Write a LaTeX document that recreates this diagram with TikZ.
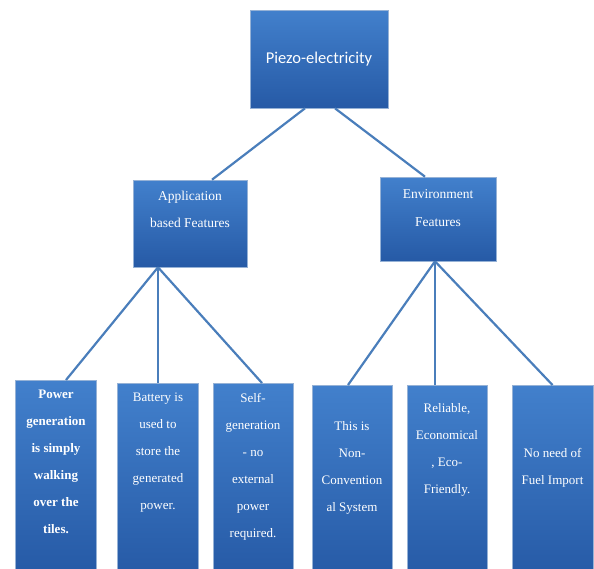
\documentclass[tikz,border=0pt]{standalone}
\usepackage{fontspec}
\setmainfont{Liberation Serif}
\newfontfamily\calfont{Carlito}
\usetikzlibrary{calc}

\definecolor{boxtop}{RGB}{66,128,204}
\definecolor{boxbot}{RGB}{38,90,166}
\definecolor{boxedge}{RGB}{150,178,214}
\definecolor{linkblue}{RGB}{74,126,187}

\begin{document}
\begin{tikzpicture}[
    x=1pt, y=-1pt,
    every node/.style={font=\fontsize{13}{27}\selectfont},  % base text size
    blockbox/.style={draw=boxedge, line width=0.6pt, top color=boxtop, bottom color=boxbot,
        rectangle, inner sep=0pt, text=white, align=center},
    leafbox/.style={blockbox, minimum width=81pt, minimum height=192pt, anchor=north},
    boxtext/.style={text=white, align=center, anchor=north, inner sep=0pt,
        font=\fontsize{13}{27}\selectfont},
    link/.style={draw=linkblue, line width=2.2pt}
]

\useasboundingbox (0,0) rectangle (594,568);

% Root block
\node[blockbox, minimum width=138pt, minimum height=98pt, font=\calfont\fontsize{16.5}{20}\selectfont]
    (root) at (319,59) {Piezo-electricity};

% Second level
\node[blockbox, minimum width=114pt, minimum height=87pt] (app) at (190,223.5) {};
\node[blockbox, minimum width=116pt, minimum height=84pt] (env) at (438,219) {};
\node[boxtext, font=\fontsize{13.5}{27.5}\selectfont] (apptext) at ([yshift=-11]app.north) {Application\\based Features};
\node[boxtext, font=\fontsize{13.5}{28}\selectfont] (envtext) at ([yshift=-13]env.north) {Environment\\Features};

% Leaf blocks (they run off the lower edge)
\node[leafbox] (b1) at (56,380) {};
\node[leafbox] (b2) at (158,383) {};
\node[leafbox, minimum width=80pt] (b3) at (253,383) {};
\node[leafbox, minimum width=80pt] (b4) at (352,385) {};
\node[leafbox, minimum width=80pt] (b5) at (447,385) {};
\node[leafbox] (b6) at (552.5,385) {};

% Leaf texts
\node[boxtext, font=\bfseries\fontsize{13}{27}\selectfont] (t1) at ([yshift=-10]b1.north)
    {Power\\generation\\is simply\\walking\\over the\\tiles.};
\node[boxtext] (t2) at ([yshift=-10]b2.north) {Battery is\\used to\\store the\\generated\\power.};
\node[boxtext] (t3) at ([yshift=-10]b3.north) {Self-\\generation\\- no\\external\\power\\required.};
\node[boxtext] (t4) at ([yshift=-36]b4.north) {This is\\Non-\\Convention\\al System};
\node[boxtext] (t5) at ([yshift=-18]b5.north) {Reliable,\\Economical\\, Eco-\\Friendly.};
\node[boxtext] (t6) at ([yshift=-63]b6.north) {No need of\\Fuel Import};

% Connectors
\coordinate (appjoin) at ([xshift=-32]app.south);
\coordinate (envjoin) at ([xshift=-3]env.south);
\draw[link] ([xshift=-14]root.south) -- ([xshift=22]app.north);
\draw[link] ([xshift=16]root.south) -- ([xshift=-13]env.north);
\draw[link] (appjoin) -- ([xshift=10]b1.north);
\draw[link] (appjoin) -- (b2.north);
\draw[link] (appjoin) -- ([xshift=9]b3.north);
\draw[link] (envjoin) -- ([xshift=-4]b4.north);
\draw[link] (envjoin) -- ([xshift=-12]b5.north);
\draw[link] (envjoin) -- (b6.north);

\end{tikzpicture}
\end{document}
